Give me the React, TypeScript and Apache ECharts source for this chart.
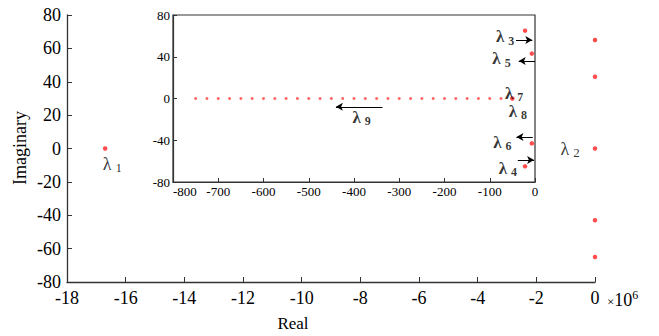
import React, { useEffect, useRef } from "react";
import * as echarts from "echarts";

// Main plot (real axis in units of 1e6)
const mainReal = [-16.7, 0, 0, 0, 0, 0];
const mainImag = [0, 65, 43, 0, -43, -65];
const mainXTicks = [-18, -16, -14, -12, -10, -8, -6, -4, -2, 0];
const mainYTicks = [-80, -60, -40, -20, 0, 20, 40, 60, 80];

// Inset plot
const insetRowReal = [-750, -725, -700, -675, -650, -625, -600, -575, -550, -525, -500, -475, -450, -425, -400, -375, -350, -325, -300, -275, -250, -225, -200, -175, -150, -125, -100, -75];
const insetRowImag = [0, 0, 0, 0, 0, 0, 0, 0, 0, 0, 0, 0, 0, 0, 0, 0, 0, 0, 0, 0, 0, 0, 0, 0, 0, 0, 0, 0];
const insetPoleReal = [-50, -22, -7, -7, -22];
const insetPoleImag = [0, 65, 43, -43, -65];

// Annotations
const mainLabels = [
  { sub: "1", x: -16.45, y: -9 },
  { sub: "2", x: -0.85, y: 0 },
];
const insetLabels = [
  { sub: "3", x: -66, y: 59 },
  { sub: "5", x: -74, y: 38 },
  { sub: "7", x: -46, y: 5 },
  { sub: "8", x: -38, y: -12 },
  { sub: "9", x: -383, y: -18 },
  { sub: "6", x: -72, y: -42 },
  { sub: "4", x: -60, y: -67 },
];
const insetArrows = [
  { from: [-42, 56], to: [-6, 56] },
  { from: [0, 36], to: [-36, 36] },
  { from: [-337, -8], to: [-440, -8] },
  { from: [-5, -37], to: [-41, -37] },
  { from: [-38, -59], to: [-2, -59] },
];

const FONT = "serif";

export default function App() {
  const ref = useRef<HTMLDivElement>(null);
  useEffect(() => {
    document.body.style.margin = "0";
    if (!ref.current) return;
    const chart = echarts.init(ref.current, undefined, { renderer: "svg" });
    const axisColor = "#333";
    const labelRich = (bold: boolean, size: number) => ({
      l: { fontFamily: FONT, fontSize: size, fontWeight: bold ? "bold" : "normal", color: "#000" },
      s: {
        fontFamily: FONT,
        fontSize: size - 5,
        fontWeight: bold ? "bold" : "normal",
        color: "#000",
        padding: [8, 0, 0, 4],
      },
    });
    chart.setOption({
      animation: false,
      backgroundColor: "#fff",
      textStyle: { fontFamily: FONT },
      grid: [
        { left: 67, right: 64, top: 15, bottom: 54, containLabel: false },
        {
          left: 173,
          top: 15,
          width: 362,
          height: 167,
          show: true,
          backgroundColor: "#fff",
          borderColor: axisColor,
          borderWidth: 1.2,
          z: 5,
        },
      ],
      xAxis: [
        {
          gridIndex: 0,
          type: "value",
          min: mainXTicks[0],
          max: mainXTicks[mainXTicks.length - 1],
          interval: 2,
          splitLine: { show: false },
          axisLine: { show: true, onZero: false, lineStyle: { color: axisColor, width: 1.3 } },
          axisTick: { show: true, inside: true, length: 5, lineStyle: { color: axisColor } },
          axisLabel: { fontFamily: FONT, fontSize: 18, color: "#000", margin: 7 },
        },
        {
          gridIndex: 1,
          type: "value",
          min: -800,
          max: 0,
          interval: 100,
          z: 6,
          splitLine: { show: false },
          axisLine: { show: true, onZero: false, lineStyle: { color: axisColor, width: 1.2 } },
          axisTick: { show: true, inside: true, length: 4, lineStyle: { color: axisColor } },
          axisLabel: { fontFamily: FONT, fontSize: 13, color: "#000", margin: 3, alignMinLabel: "left" },
        },
      ],
      yAxis: [
        {
          gridIndex: 0,
          type: "value",
          min: mainYTicks[0],
          max: mainYTicks[mainYTicks.length - 1],
          interval: 20,
          splitLine: { show: false },
          axisLine: { show: true, onZero: false, lineStyle: { color: axisColor, width: 1.3 } },
          axisTick: { show: true, inside: true, length: 5, lineStyle: { color: axisColor } },
          axisLabel: { fontFamily: FONT, fontSize: 18, color: "#000", margin: 6 },
        },
        {
          gridIndex: 1,
          type: "value",
          min: -80,
          max: 80,
          interval: 40,
          z: 6,
          splitLine: { show: false },
          axisLine: { show: true, onZero: false, lineStyle: { color: axisColor, width: 1.2 } },
          axisTick: { show: true, inside: true, length: 4, lineStyle: { color: axisColor } },
          axisLabel: { fontFamily: FONT, fontSize: 13, color: "#000", margin: 3 },
        },
      ],
      series: [
        {
          type: "scatter",
          xAxisIndex: 0,
          yAxisIndex: 0,
          symbol: "circle",
          symbolSize: 4.5,
          clip: false,
          itemStyle: { color: "#ff2020" },
          data: mainReal.map((x, i) => [x, mainImag[i]]),
        },
        {
          type: "scatter",
          xAxisIndex: 0,
          yAxisIndex: 0,
          symbolSize: 0,
          silent: true,
          label: {
            show: true,
            position: "inside",
            fontFamily: FONT,
            formatter: (p: any) => `{l|λ}{s|${p.name}}`,
            rich: labelRich(false, 18),
          },
          data: mainLabels.map((d) => ({ name: d.sub, value: [d.x, d.y] })),
        },
        {
          type: "scatter",
          xAxisIndex: 1,
          yAxisIndex: 1,
          symbol: "circle",
          symbolSize: 3,
          z: 7,
          itemStyle: { color: "#ff4040" },
          data: insetRowReal.map((x, i) => [x, insetRowImag[i]]),
        },
        {
          type: "scatter",
          xAxisIndex: 1,
          yAxisIndex: 1,
          symbol: "circle",
          symbolSize: 4.5,
          z: 7,
          itemStyle: { color: "#ff2020" },
          data: insetPoleReal.map((x, i) => [x, insetPoleImag[i]]),
          markLine: {
            silent: true,
            symbol: ["none", "arrow"],
            symbolSize: [6, 7],
            label: { show: false },
            lineStyle: { color: "#000", width: 1, type: "solid" },
            data: insetArrows.map((a) => [{ coord: a.from }, { coord: a.to }]),
          },
        },
        {
          type: "scatter",
          xAxisIndex: 1,
          yAxisIndex: 1,
          symbolSize: 0,
          silent: true,
          z: 8,
          label: {
            show: true,
            position: "inside",
            fontFamily: FONT,
            formatter: (p: any) => `{l|λ}{s|${p.name}}`,
            rich: labelRich(true, 17),
          },
          data: insetLabels.map((d) => ({ name: d.sub, value: [d.x, d.y] })),
        },
      ],
      graphic: [
        {
          type: "text",
          x: 20,
          y: 148,
          rotation: Math.PI / 2,
          style: {
            text: "Imaginary",
            fontFamily: FONT,
            fontSize: 18,
            fill: "#000",
            textAlign: "center",
            textVerticalAlign: "middle",
          },
        },
        {
          type: "text",
          x: 293,
          y: 323,
          style: {
            text: "Real",
            fontFamily: FONT,
            fontSize: 17,
            fill: "#000",
            textAlign: "center",
            textVerticalAlign: "middle",
          },
        },
        {
          type: "text",
          x: 607,
          y: 300,
          style: {
            text: "{x|×}{n|10}{e|6}",
            textVerticalAlign: "middle",
            fontFamily: FONT,
            rich: {
              x: { fontFamily: FONT, fontSize: 13, fill: "#000", padding: [2, 0, 0, 0] },
              n: { fontFamily: FONT, fontSize: 18, fill: "#000" },
              e: { fontFamily: FONT, fontSize: 12, fill: "#000", padding: [0, 0, 10, 0] },
            },
          },
        },
      ],
    });
    return () => chart.dispose();
  }, []);
  return <div ref={ref} style={{ width: 659, height: 336 }} />;
}
